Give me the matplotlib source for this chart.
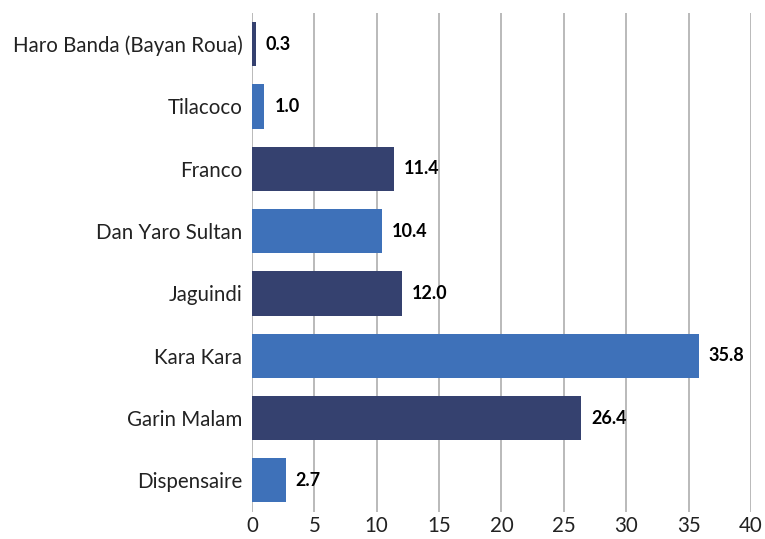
import matplotlib
matplotlib.use('Agg')
import matplotlib.pyplot as plt
import numpy as np

# data, top to bottom as shown
sites = ['Haro Banda (Bayan Roua)', 'Tilacoco', 'Franco', 'Dan Yaro Sultan',
         'Jaguindi', 'Kara Kara', 'Garin Malam', 'Dispensaire']
values = [0.3, 1.0, 11.4, 10.4, 12.0, 35.8, 26.4, 2.7]
xticks = [0, 5, 10, 15, 20, 25, 30, 35, 40]

dark = '#35416F'
light = '#3E71B9'
colors = [dark if i % 2 == 0 else light for i in range(len(sites))]

plt.rcParams['font.family'] = ['Lato', 'DejaVu Sans']

fig = plt.figure(figsize=(7.65, 5.39), dpi=100)
ax = fig.add_axes([0.3294, 0.051, 0.6523, 0.925])

y = np.arange(len(sites))
ax.barh(y, values, height=0.71, color=colors, zorder=2)

for yi, v in zip(y, values):
    ax.text(v + 0.8, yi, f"{v:.1f}", va='center', ha='left',
            fontsize=13, fontweight='bold', color='black', zorder=3)

ax.set_xlim(0, 40)
ax.set_ylim(len(sites) - 0.5, -0.5)
ax.set_xticks(xticks)
ax.set_yticks(y)
ax.set_yticklabels(sites)
ax.tick_params(axis='both', length=0, labelsize=14.8, colors='#222222')
ax.tick_params(axis='y', pad=7)
ax.tick_params(axis='x', pad=3)
ax.xaxis.grid(True, color='#B4B4B4', linewidth=1.3, zorder=0)
ax.set_axisbelow(True)
for s in ax.spines.values():
    s.set_visible(False)

fig.savefig('out.png', dpi=100)
